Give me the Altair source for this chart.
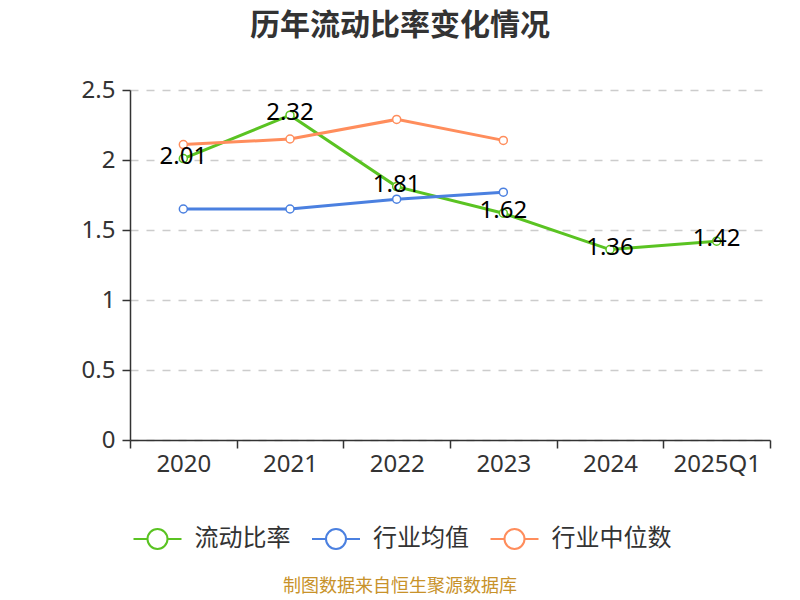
import altair as alt
import pandas as pd

categories = ["2020", "2021", "2022", "2023", "2024", "2025Q1"]
current_ratio = [2.01, 2.32, 1.81, 1.62, 1.36, 1.42]
industry_mean = [1.65, 1.65, 1.72, 1.77, None, None]
industry_median = [2.11, 2.15, 2.29, 2.14, None, None]

series_names = ["流动比率", "行业均值", "行业中位数"]
series_colors = ["#5ac322", "#4b80e0", "#ff8d5c"]

rows = []
for name, vals in zip(series_names, [current_ratio, industry_mean, industry_median]):
    for c, v in zip(categories, vals):
        if v is not None:
            rows.append({"year": c, "series": name, "value": v, "label": f"{v:.2f}"})
df = pd.DataFrame(rows)

legend_symbol = "M-2.4,0L-1,0M1,0L2.4,0M1,0A1,1,0,1,1,-1,0A1,1,0,1,1,1,0Z"

color = alt.Color(
    "series:N",
    scale=alt.Scale(domain=series_names, range=series_colors),
    legend=alt.Legend(
        title=None,
        orient="none",
        direction="horizontal",
        legendX=15.5,
        legendY=437,
        symbolType=legend_symbol,
        symbolSize=400,
        symbolStrokeWidth=2,
        symbolFillColor="white",
        labelFont="Noto Sans CJK SC",
        labelFontSize=24,
        labelColor="#333333",
        labelOffset=25,
        columnPadding=17.5,
        padding=0,
        labelLimit=300,
    ),
)

x = alt.X(
    "year:N",
    sort=categories,
    scale=alt.Scale(domain=categories, paddingInner=0, paddingOuter=0),
    axis=alt.Axis(
        title=None,
        labelAngle=0,
        tickBand="extent",
        tickSize=8,
        labelPadding=4,
        grid=False,
        domainColor="#333333",
        domainWidth=1.5,
        tickColor="#333333",
        tickWidth=1.5,
        labelFont="Noto Sans",
        labelFontSize=24,
        labelColor="#333333",
    ),
)
y = alt.Y(
    "value:Q",
    scale=alt.Scale(domain=[0, 2.5], nice=False),
    axis=alt.Axis(
        title=None,
        values=[0, 0.5, 1, 1.5, 2, 2.5],
        format="~g",
        tickSize=8,
        labelPadding=7,
        domainColor="#333333",
        domainWidth=1.5,
        tickColor="#333333",
        tickWidth=1.5,
        grid=True,
        gridColor="#cccccc",
        gridDash=[8, 8],
        gridWidth=1.5,
        labelFont="Noto Sans",
        labelFontSize=24,
        labelColor="#333333",
    ),
)

base = alt.Chart(df)

layers = []
for name in series_names:
    sub = base.transform_filter(alt.datum.series == name)
    layers.append(sub.mark_line(strokeWidth=3).encode(x=x, y=y, color=color))
    layers.append(
        sub.mark_point(shape="circle", size=64, filled=True, fill="white", strokeWidth=1.5, opacity=1)
        .encode(x=x, y=y, stroke=alt.Stroke("series:N", scale=alt.Scale(domain=series_names, range=series_colors), legend=None))
    )

labels = base.transform_filter(alt.datum.series == "流动比率").mark_text(
    font="Noto Sans", fontSize=24, color="#000000", baseline="middle", align="center", dy=-2
).encode(x=x, y=y, text="label:N")

title = alt.Chart(pd.DataFrame({"t": ["历年流动比率变化情况"]})).mark_text(
    font="Noto Sans CJK SC", fontSize=30, fontWeight="bold", color="#333333", align="center", baseline="middle"
).encode(x=alt.value(270), y=alt.value(-64), text="t:N")

footer = alt.Chart(pd.DataFrame({"t": ["制图数据来自恒生聚源数据库"]})).mark_text(
    font="Noto Sans CJK SC", fontSize=18, color="#c8922a", align="center", baseline="middle"
).encode(x=alt.value(270), y=alt.value(497), text="t:N")

chart = alt.layer(*layers, labels, title, footer).properties(
    width=640,
    height=350,
    autosize=alt.AutoSizeParams(type="none"),
    padding={"left": 122, "top": 82, "right": 22, "bottom": 160},
).configure_view(stroke=None)

chart.save("out.html", embed_options={"renderer": "svg", "actions": False})
